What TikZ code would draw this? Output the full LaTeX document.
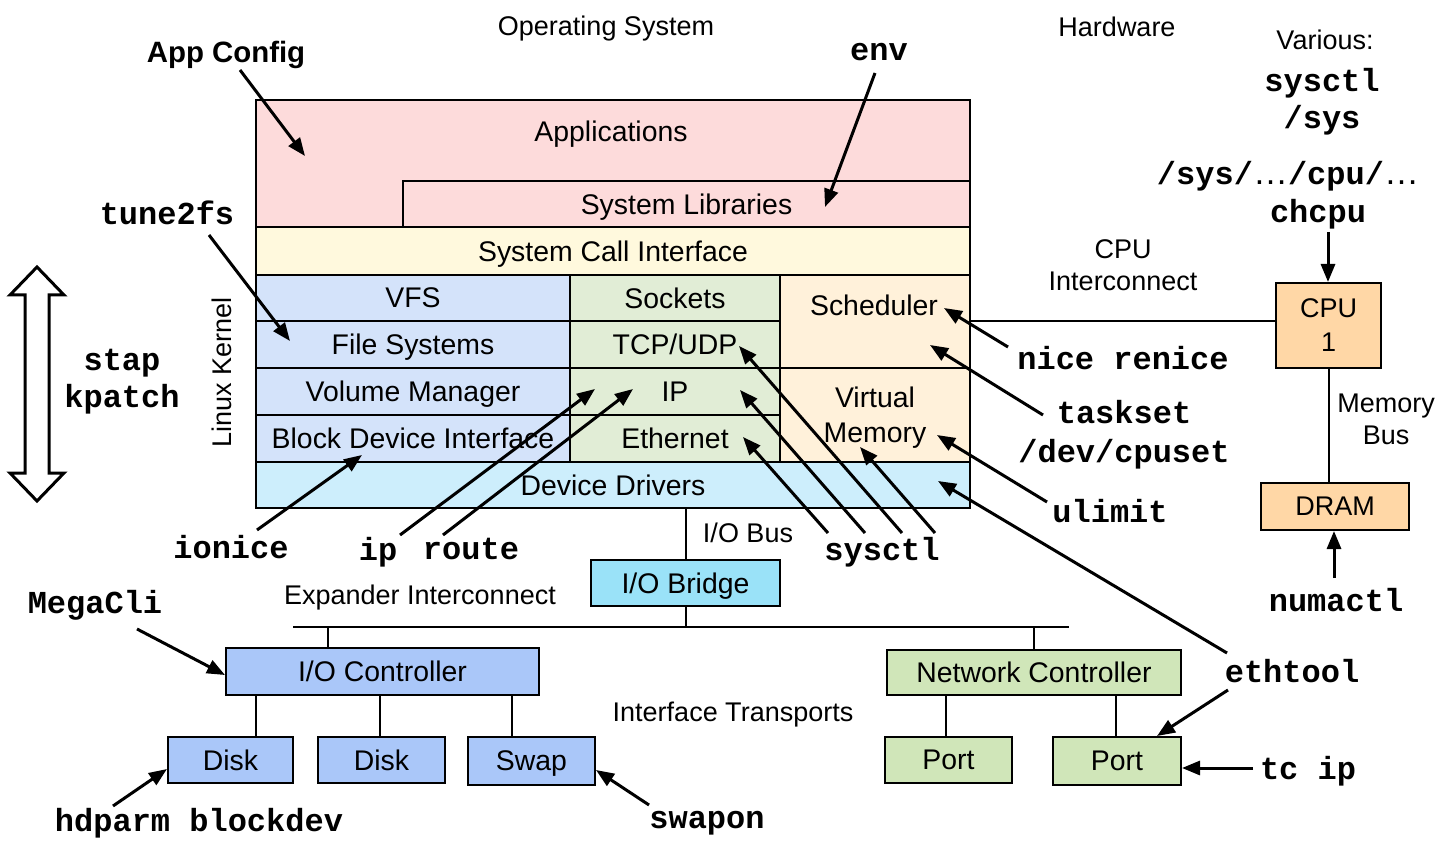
\documentclass[tikz,border=0pt]{standalone}
\usepackage{fontspec}
\setmainfont{Liberation Sans}
\setmonofont{Liberation Mono}
\usetikzlibrary{arrows.meta,fit}
\definecolor{appc}{HTML}{FDDBDB}
\definecolor{scic}{HTML}{FFF9DD}
\definecolor{fsc}{HTML}{D4E3FA}
\definecolor{netc}{HTML}{E1EDD6}
\definecolor{korc}{HTML}{FFF1DA}
\definecolor{drvc}{HTML}{CDEEFC}
\definecolor{brgc}{HTML}{9AE2F8}
\definecolor{hwbc}{HTML}{AAC7F9}
\definecolor{hwgc}{HTML}{D0E6B9}
\definecolor{cpuc}{HTML}{FFD7A6}
\newcommand\sansz{\fontsize{13.5}{16}\selectfont}
\newcommand\boxz{\fontsize{14.2}{16.5}\selectfont}
\newcommand\cmdz{\fontsize{16}{18.5}\selectfont\ttfamily\bfseries}
\newcommand\myell{{\fontsize{17.5}{18}\selectfont\rmfamily\mdseries…}}
% #1 name, #2 corner, #3 corner, #4 fill, #5 text
\newcommand\blkbox[5]{\node[blk,fill=#4,fit={#2#3}] (#1) {};
  \node[btxt] (#1t) at (#1.center) {#5};}
\begin{document}
\begin{tikzpicture}[x=0.5pt,y=-0.5pt,font=\sansz,
  blk/.style={draw,line width=1pt,inner sep=0pt},
  ln/.style={line width=1pt},
  cmd/.style={font=\cmdz,inner sep=0pt,align=center,text depth=0pt},
  txt/.style={inner sep=0pt,align=center,text depth=0pt},
  btxt/.style={txt,font=\boxz},
  arr/.style={line width=1.5pt,-{Triangle[length=9pt,width=7pt]}}]
\useasboundingbox (0,0) rectangle (1451,850);

% ---------- kernel stack ----------
\node[blk,fill=appc,fit={(256,100)(970,227)}] (app) {};
\node[btxt] (apptxt) at (611,131) {Applications};
\blkbox{lib}{(403,181)}{(970,227)}{appc}{System Libraries}
\blkbox{sci}{(256,227)}{(970,275)}{scic}{System Call Interface}
\blkbox{vfs}{(256,275)}{(570,321)}{fsc}{VFS}
\blkbox{fs}{(256,321)}{(570,368)}{fsc}{File Systems}
\blkbox{vol}{(256,368)}{(570,415)}{fsc}{Volume Manager}
\blkbox{bdi}{(256,415)}{(570,462)}{fsc}{Block Device Interface}
\blkbox{sock}{(570,275)}{(780,321)}{netc}{Sockets}
\blkbox{tcp}{(570,321)}{(780,368)}{netc}{TCP/UDP}
\blkbox{ipb}{(570,368)}{(780,415)}{netc}{IP}
\blkbox{eth}{(570,415)}{(780,462)}{netc}{Ethernet}
\node[blk,fill=korc,fit={(780,275)(970,368)}] (sched) {};
\node[btxt] (schedtxt) at (874,305) {Scheduler};
\blkbox{vm}{(780,368)}{(970,462)}{korc}{Virtual\\[1pt]Memory}
\blkbox{drv}{(256,462)}{(970,508)}{drvc}{Device Drivers}
\node[txt,rotate=90] (lk) at (222,372) {Linux Kernel};

% ---------- hardware ----------
\blkbox{bridge}{(591,560)}{(780,606)}{brgc}{I/O Bridge}
\blkbox{ioc}{(226,648)}{(539,695)}{hwbc}{I/O Controller}
\blkbox{nc}{(887,650)}{(1181,695)}{hwgc}{Network Controller}
\blkbox{disk1}{(168,737)}{(293,783)}{hwbc}{Disk}
\blkbox{disk2}{(318,737)}{(445,783)}{hwbc}{Disk}
\blkbox{swap}{(468,737)}{(595,785)}{hwbc}{Swap}
\blkbox{port1}{(885,737)}{(1012,783)}{hwgc}{Port}
\blkbox{port2}{(1053,737)}{(1181,785)}{hwgc}{Port}
\node[blk,fill=cpuc,fit={(1276,283)(1381,368)}] (cpu) {};
\node[txt] (cput) at (cpu.center) {CPU\\[1pt]1};
\node[blk,fill=cpuc,fit={(1261,483)(1409,530)}] (dram) {};
\node[txt] (dramt) at (dram.center) {DRAM};

% ---------- buses ----------
\coordinate (busL) at (293,627);
\coordinate (busR) at (1069,627);
\draw[ln] (bridge.north) -- (bridge.north |- drv.south);
\draw[ln] (busL) -- (busR);
\draw[ln] (bridge.south) -- (bridge.south |- busL);
\draw[ln] (ioc.north -| 328,0) -- (busL -| 328,0);
\draw[ln] (nc.north) -- (nc.north |- busL);
\draw[ln] (disk1.north -| 256,0) -- (ioc.south -| 256,0);
\draw[ln] (disk2.north -| 380,0) -- (ioc.south -| 380,0);
\draw[ln] (swap.north -| 512,0) -- (ioc.south -| 512,0);
\draw[ln] (port1.north -| 946,0) -- (nc.south -| 946,0);
\draw[ln] (port2.north -| 1116,0) -- (nc.south -| 1116,0);
\draw[ln] (cpu.south) -- (cpu.south |- dram.north);
\draw[ln] (sched.east |- 0,321) -- (cpu.west |- 0,321);

% ---------- plain labels ----------
\node[txt] (os) at (606,26) {Operating System};
\node[txt] (hw) at (1117,27) {Hardware};
\node[txt] (var) at (1325,40) {Various:};
\node[txt] (cpuic) at (1123,265) {CPU\\Interconnect};
\node[txt] (membus) at (1386,419) {Memory\\Bus};
\node[txt] (iobus) at (748,533) {I/O Bus};
\node[txt] (expic) at (420,595) {Expander Interconnect};
\node[txt] (ift) at (733,712) {Interface Transports};
\node[txt,font=\fontsize{14.7}{17}\selectfont\bfseries] (appcfg) at (226,52) {App Config};

% ---------- command labels ----------
\node[cmd] (sysctlA) at (1322,80) {sysctl};
\node[cmd] (sysA) at (1322,117) {/sys};
\node[cmd] (syscpu) at (1288,173) {/sys/\myell/cpu/\myell};
\node[cmd] (chcpu) at (1318,211) {chcpu};
\node[cmd] (env) at (879,52) {env};
\node[cmd] (tune) at (167,213) {tune2fs};
\node[cmd] (stap) at (122,360) {stap};
\node[cmd] (kpatch) at (122,396) {kpatch};
\node[cmd] (nice) at (1123,358) {nice renice};
\node[cmd] (taskset) at (1124,412) {taskset};
\node[cmd] (cpuset) at (1124,451) {/dev/cpuset};
\node[cmd] (ulimit) at (1110,511) {ulimit};
\node[cmd] (ethtool) at (1292,671) {ethtool};
\node[cmd] (tcip) at (1308,768) {tc ip};
\node[cmd] (numactl) at (1336,600) {numactl};
\node[cmd] (ionice) at (231,547) {ionice};
\node[cmd] (ipc) at (378,549) {ip};
\node[cmd] (route) at (471,549) {route};
\node[cmd] (sysctlB) at (882,549) {sysctl};
\node[cmd] (megacli) at (95,602) {MegaCli};
\node[cmd] (hdparm) at (199,820) {hdparm blockdev};
\node[cmd] (swapon) at (707,820) {swapon};

% ---------- double arrow ----------
\draw[line width=1.5pt,line join=miter,fill=white] (37,267) -- (64,295) -- (49,295) -- (49,473) -- (64,473)
  -- (37,501) -- (10,473) -- (25,473) -- (25,295) -- (10,295) -- cycle;

% ---------- arrow end points ----------
\coordinate (aS) at (240,70);   \coordinate (aT) at (305,156);
\coordinate (eS) at (875,73);   \coordinate (eT) at (825,207);
\coordinate (tS) at (209,235);  \coordinate (tT) at (290,341);
\coordinate (ioS) at (257,530); \coordinate (ioT) at (362,455);
\coordinate (ipS) at (400,535); \coordinate (ipT) at (595,389);
\coordinate (rS) at (443,535);  \coordinate (rT) at (633,389);
\coordinate (s1S) at (828,533); \coordinate (s1T) at (743,437);
\coordinate (s2S) at (865,533); \coordinate (s2T) at (740,390);
\coordinate (s3S) at (902,533); \coordinate (s3T) at (739,346);
\coordinate (s4S) at (935,533); \coordinate (s4T) at (860,447);
\coordinate (nS) at (1008,347); \coordinate (nT) at (944,308);
\coordinate (kS) at (1043,415); \coordinate (kT) at (930,345);
\coordinate (uS) at (1047,502); \coordinate (uT) at (937,435);
\coordinate (e1S) at (1227,653);\coordinate (e1T) at (938,481);
\coordinate (e2S) at (1228,690);\coordinate (e2T) at (1157,736);
\coordinate (tcS) at (1253,768);
\coordinate (nuS) at (1334,578);
\coordinate (chS) at (1328,232);
\coordinate (mS) at (137,629);
\coordinate (hS) at (113,806);
\coordinate (swS) at (649,805);

\draw[arr] (aS) -- (aT);
\draw[arr] (eS) -- (eT);
\draw[arr] (tS) -- (tT);
\draw[arr] (ioS) -- (ioT);
\draw[arr] (ipS) -- (ipT);
\draw[arr] (rS) -- (rT);
\draw[arr] (s1S) -- (s1T);
\draw[arr] (s2S) -- (s2T);
\draw[arr] (s3S) -- (s3T);
\draw[arr] (s4S) -- (s4T);
\draw[arr] (nS) -- (nT);
\draw[arr] (kS) -- (kT);
\draw[arr] (uS) -- (uT);
\draw[arr] (e1S) -- (e1T);
\draw[arr] (e2S) -- (e2T);
\draw[arr] (tcS) -- (port2.east |- tcS);
\draw[arr] (nuS) -- (nuS |- dram.south);
\draw[arr] (chS) -- (chS |- cpu.north);
\draw[arr] (mS) -- (ioc.west |- 0,675);
\draw[arr] (hS) -- (disk1.west |- 0,769);
\draw[arr] (swS) -- (swap.east |- 0,770);
\end{tikzpicture}
\end{document}
